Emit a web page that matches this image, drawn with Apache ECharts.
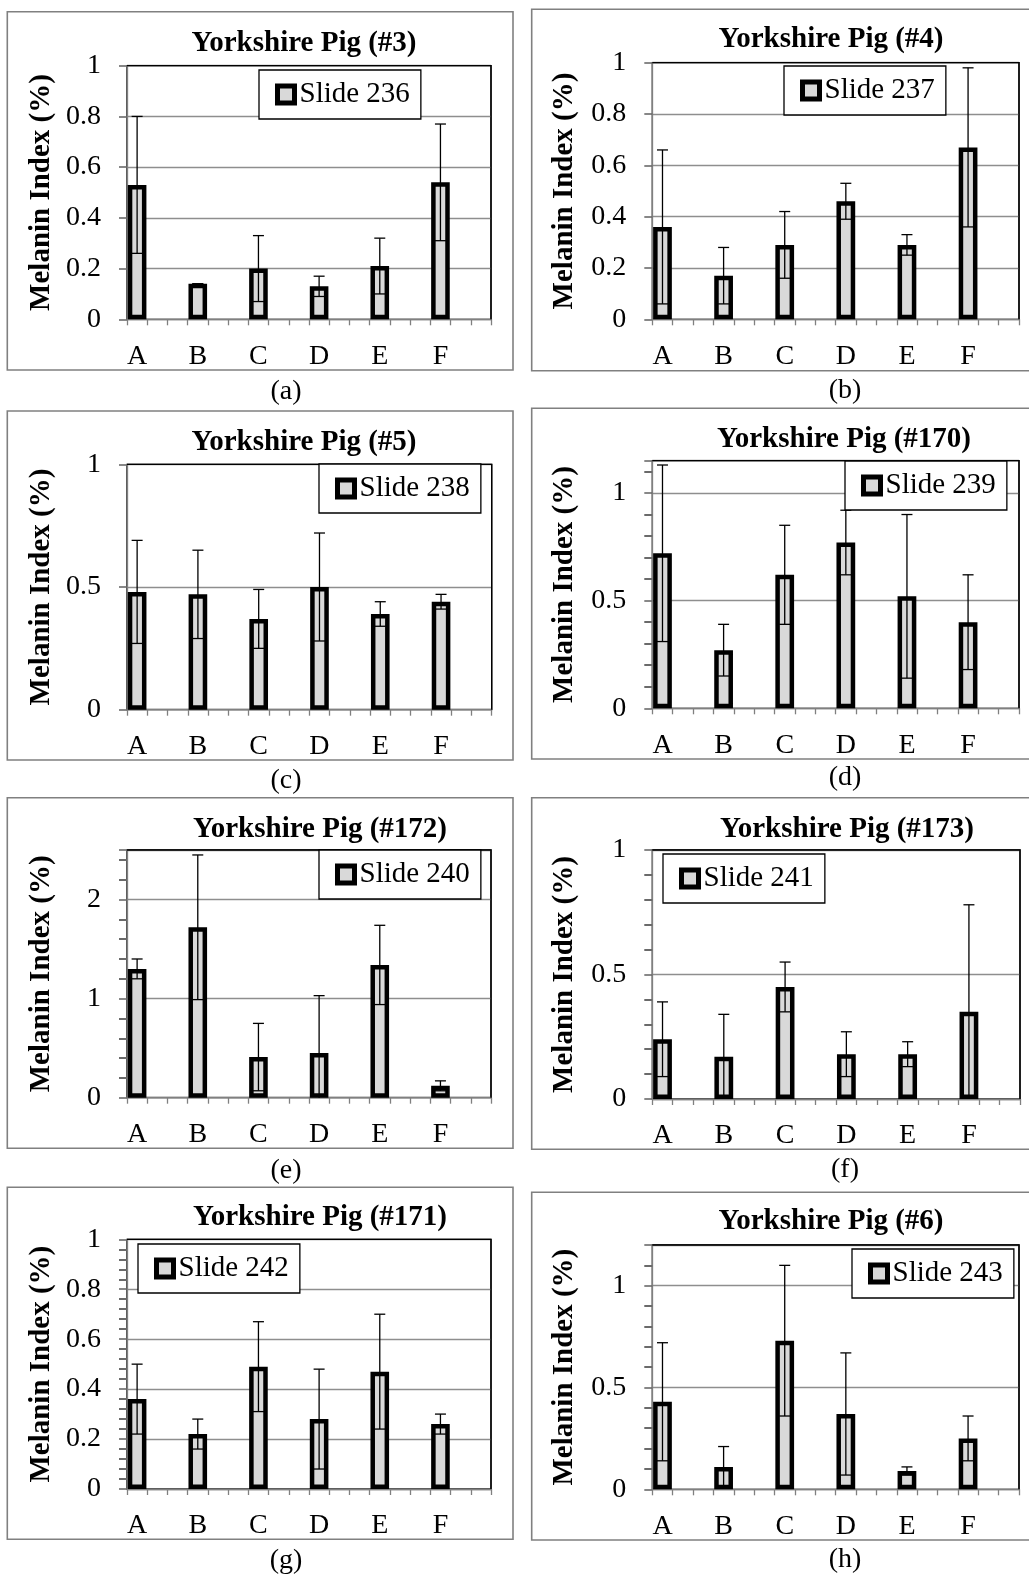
<!DOCTYPE html>
<html><head><meta charset="utf-8">
<script src="https://cdn.jsdelivr.net/npm/echarts@6/dist/echarts.min.js"></script>
<style>html,body{margin:0;padding:0;background:#fff;}#main{width:1029px;height:1577px;}</style>
</head><body><div id="main"></div>
<script>
// ---------- DATA ----------
const categories = ['A', 'B', 'C', 'D', 'E', 'F'];
const titles = ['Yorkshire Pig (#3)', 'Yorkshire Pig (#4)', 'Yorkshire Pig (#5)', 'Yorkshire Pig (#170)',
                'Yorkshire Pig (#172)', 'Yorkshire Pig (#173)', 'Yorkshire Pig (#171)', 'Yorkshire Pig (#6)'];
const slides = ['Slide 236', 'Slide 237', 'Slide 238', 'Slide 239', 'Slide 240', 'Slide 241', 'Slide 242', 'Slide 243'];
const captions = ['(a)', '(b)', '(c)', '(d)', '(e)', '(f)', '(g)', '(h)'];
const yAxisTitle = 'Melanin Index (%)';

const pig3Mean   = [0.53, 0.14, 0.20, 0.13, 0.21, 0.54];
const pig3Err    = [0.27, 0.00, 0.13, 0.04, 0.11, 0.23];
const pig4Mean   = [0.36, 0.17, 0.29, 0.46, 0.29, 0.67];
const pig4Err    = [0.30, 0.11, 0.13, 0.07, 0.04, 0.31];
const pig5Mean   = [0.48, 0.47, 0.37, 0.50, 0.39, 0.44];
const pig5Err    = [0.21, 0.18, 0.12, 0.22, 0.05, 0.03];
const pig170Mean = [0.72, 0.27, 0.62, 0.77, 0.52, 0.40];
const pig170Err  = [0.41, 0.12, 0.23, 0.15, 0.38, 0.22];
const pig172Mean = [1.30, 1.72, 0.41, 0.45, 1.34, 0.12];
const pig172Err  = [0.10, 0.73, 0.34, 0.58, 0.40, 0.05];
const pig173Mean = [0.24, 0.17, 0.45, 0.18, 0.18, 0.35];
const pig173Err  = [0.15, 0.17, 0.10, 0.09, 0.05, 0.43];
const pig171Mean = [0.36, 0.22, 0.49, 0.28, 0.47, 0.26];
const pig171Err  = [0.14, 0.06, 0.18, 0.20, 0.23, 0.04];
const pig6Mean   = [0.43, 0.11, 0.73, 0.37, 0.09, 0.25];
const pig6Err    = [0.29, 0.10, 0.37, 0.30, 0.02, 0.11];

// y-axis tick settings per panel
const yMax   = [1, 1, 1, 1.15, 2.5, 1, 1, 1.2];
const yStep  = [0.2, 0.2, 0.5, 0.5, 1, 0.5, 0.2, 0.5];
const yMinor = [0, 0, 0, 0.1, 0.2, 0.1, 0.04, 0.1];   // minor tick unit (0 = none)

const means = [pig3Mean, pig4Mean, pig5Mean, pig170Mean, pig172Mean, pig173Mean, pig171Mean, pig6Mean];
const errs  = [pig3Err, pig4Err, pig5Err, pig170Err, pig172Err, pig173Err, pig171Err, pig6Err];

// ---------- LAYOUT (pixels) ----------
const layout = [
  {plot:[127,65.7,491,319.3],   legend:[259,70],   title:[304,44],    box:[7.3,11.7,513,370],      caption:[286,392],   nameGap:71},
  {plot:[652.3,62.7,1019,319.3],legend:[784,66],   title:[831,40],    box:[531.7,9.3,1032,370.7],  caption:[845,391],   nameGap:73},
  {plot:[127,464.3,491.7,709.7],legend:[319,464],  title:[304,443],   box:[7.3,411,513,760],       caption:[286,780.5], nameGap:71},
  {plot:[652.3,460.7,1019,708.3],legend:[845,461], title:[844,440],   box:[531.7,408.3,1032,759],  caption:[845,778],   nameGap:73},
  {plot:[127,850,491,1097.7],   legend:[319,850],  title:[320,830],   box:[7.3,797.7,513,1148.3],  caption:[286,1171],  nameGap:71},
  {plot:[652.3,850,1020,1099],  legend:[663,854],  title:[847,829.5], box:[531.7,797.7,1032,1149.3],caption:[845,1170], nameGap:73},
  {plot:[127,1239.3,491,1489],  legend:[138,1244], title:[320,1217.5],box:[7.3,1187.3,513,1539.3], caption:[286,1561],  nameGap:71},
  {plot:[652.3,1245,1019,1489.3],legend:[852,1249],title:[831,1221.5],box:[531.7,1192.3,1032,1540],caption:[845,1560],  nameGap:73}
];

const FONT = '"Liberation Serif","Times New Roman",Times,serif';
const GRAY = '#808080';
const TICK = '#6a6a6a';
const SLOTS = 3; // each category occupies 3 slots on the axis, bar in the first

const slotNames = [];
categories.forEach(c => { for (let k = 0; k < SLOTS; k++) slotNames.push(k === 0 ? c : c + '_' + k); });

function renderErr(params, api) {
  const x = api.value(0), m = api.value(1), e = api.value(2);
  const lo = Math.max(0, m - e), hi = m + e;
  const pHi = api.coord([x, hi]);
  const pLo = api.coord([x, lo]);
  const cap = 5.5;
  const st = {stroke: '#000', lineWidth: 1.3};
  const ch = [
    {type: 'line', shape: {x1: pHi[0], y1: pHi[1], x2: pLo[0], y2: pLo[1]}, style: st},
    {type: 'line', shape: {x1: pHi[0] - cap, y1: pHi[1], x2: pHi[0] + cap, y2: pHi[1]}, style: st}
  ];
  if (m - e > 0.005) ch.push({type: 'line', shape: {x1: pLo[0] - cap, y1: pLo[1], x2: pLo[0] + cap, y2: pLo[1]}, style: st});
  return {type: 'group', children: ch};
}

const grid = [], xAxis = [], yAxis = [], series = [], legend = [], elements = [];

means.forEach((meanArr, i) => {
  const L = layout[i];
  const step = yStep[i];
  grid.push({left: L.plot[0], top: L.plot[1], width: L.plot[2] - L.plot[0], height: L.plot[3] - L.plot[1],
    show: true, borderColor: '#000', borderWidth: 1.3, backgroundColor: 'transparent'});
  xAxis.push({type: 'category', gridIndex: i, data: slotNames, boundaryGap: true,
    axisLine: {show: true, lineStyle: {color: GRAY, width: 1.3}},
    axisTick: {show: true, interval: 0, length: 6, lineStyle: {color: GRAY, width: 1.3}},
    axisLabel: {interval: 0, margin: 23, color: '#000', fontFamily: FONT, fontSize: 28,
      formatter: v => (v.indexOf('_') < 0 ? v : '')},
    splitLine: {show: false}});
  yAxis.push({type: 'value', gridIndex: i, min: 0, max: yMax[i], interval: step,
    name: yAxisTitle, nameLocation: 'middle', nameGap: L.nameGap,
    nameTextStyle: {fontFamily: FONT, fontSize: 29, fontWeight: 'bold', color: '#000'},
    axisLine: {show: true, lineStyle: {color: GRAY, width: 1.3}},
    axisTick: {show: true, length: 8, lineStyle: {color: TICK, width: 1.6}},
    minorTick: {show: yMinor[i] > 0, splitNumber: yMinor[i] > 0 ? Math.round(step / yMinor[i]) : 5, length: 8,
      lineStyle: {color: TICK, width: 2}},
    axisLabel: {margin: 26, color: '#000', fontFamily: FONT, fontSize: 28,
      formatter: v => (Math.abs(v / step - Math.round(v / step)) < 1e-6 ? String(+v.toFixed(2)) : '')},
    splitLine: {show: true, lineStyle: {color: '#8e8e8e', width: 1.3}}});

  const barData = [], errData = [];
  slotNames.forEach((s, k) => {
    if (k % SLOTS === 0) {
      const ci = k / SLOTS;
      barData.push(meanArr[ci]);
      errData.push([k, meanArr[ci], errs[i][ci]]);
    } else barData.push('-');
  });
  series.push({type: 'bar', name: slides[i], xAxisIndex: i, yAxisIndex: i, data: barData, barWidth: '92%',
    itemStyle: {color: '#d9d9d9', borderColor: '#000', borderWidth: 4.5}, silent: true, z: 2});
  series.push({type: 'custom', name: 'err' + i, xAxisIndex: i, yAxisIndex: i, data: errData,
    renderItem: renderErr, silent: true, z: 3});
  legend.push({data: [slides[i]], left: L.legend[0], top: L.legend[1], orient: 'horizontal',
    padding: [10, 11, 10, 16], itemWidth: 17, itemHeight: 17, icon: 'rect', selectedMode: false,
    itemStyle: {color: '#d9d9d9', borderColor: '#000', borderWidth: 5},
    textStyle: {fontFamily: FONT, fontSize: 29, color: '#000'},
    backgroundColor: '#fff', borderColor: '#000', borderWidth: 1.3, borderRadius: 0, z: 20});

  // plot-area top/right border in black (drawn over the top grid line)
  elements.push({type: 'polyline', silent: true, z: 10,
    shape: {points: [[L.plot[0], L.plot[1]], [L.plot[2], L.plot[1]], [L.plot[2], L.plot[3]]]},
    style: {fill: 'none', stroke: '#000', lineWidth: 1.3}});
  elements.push({type: 'rect', silent: true,
    shape: {x: L.box[0], y: L.box[1], width: L.box[2] - L.box[0], height: L.box[3] - L.box[1]},
    style: {fill: 'none', stroke: GRAY, lineWidth: 1.6}});
  elements.push({type: 'text', silent: true, x: L.title[0], y: L.title[1],
    style: {text: titles[i], fontFamily: FONT, fontSize: 29, fontWeight: 'bold', fill: '#000', align: 'center', verticalAlign: 'middle'}});
  elements.push({type: 'text', silent: true, x: L.caption[0], y: L.caption[1],
    style: {text: captions[i], fontFamily: FONT, fontSize: 28, fill: '#000', align: 'center', verticalAlign: 'middle'}});
});

const chart = echarts.init(document.getElementById('main'), null, {renderer: 'canvas'});
chart.setOption({
  animation: false,
  backgroundColor: '#fff',
  grid, xAxis, yAxis, series, legend,
  graphic: {elements},
  tooltip: {show: false}
});
</script></body></html>
